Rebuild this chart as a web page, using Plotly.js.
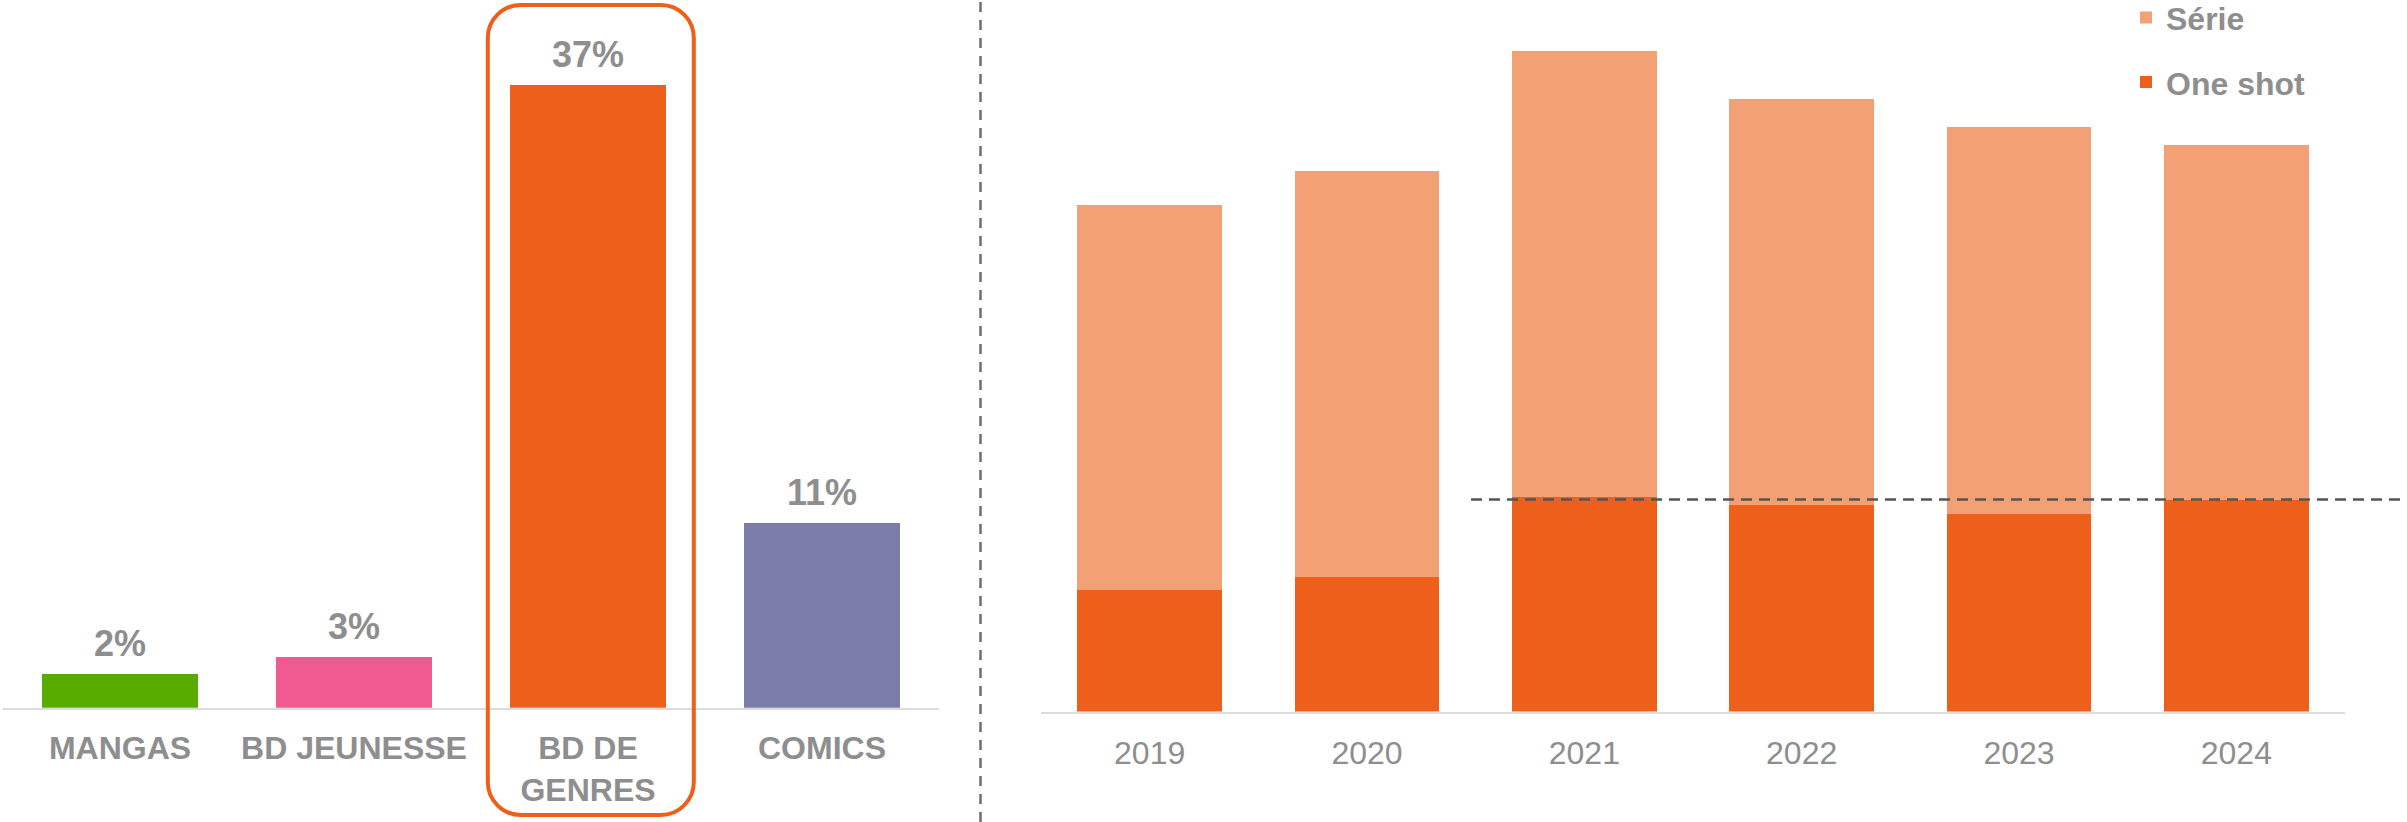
<!DOCTYPE html>
<html>
<head>
<meta charset="utf-8">
<script src="https://cdn.plot.ly/plotly-3.0.1.min.js"></script>
<style>
  html, body { margin: 0; padding: 0; background: #ffffff; }
  #chart { width: 2407px; height: 822px; }
</style>
</head>
<body>
<div id="chart"></div>
<script>
// ---- Left chart: share by genre (%) ----
const genreCategories = ["MANGAS", "BD JEUNESSE", "BD DE<br>GENRES", "COMICS"];
const genreShares = [2, 3, 37, 11];
const genreColors = ["#58AC00", "#EF5A91", "#EE5F1B", "#797DA8"];
const highlightedGenre = "BD DE<br>GENRES";

// ---- Right chart: BD de genres by format ----
const years = ["2019", "2020", "2021", "2022", "2023", "2024"];
const oneShotValues = [122, 135, 215, 207, 198, 212];
const serieValues = [385, 406, 446, 406, 387, 355];
const seriesNames = { oneShot: "One shot", serie: "Série" };
const seriesColors = { oneShot: "#EE5F1B", serie: "#F3A074" };

const FONT = "Liberation Sans, Arial, Helvetica, sans-serif";
const GREY = "#8E8E8E";
const W = 2407, H = 822;

const traces = [
  {
    type: "bar",
    x: genreCategories,
    y: genreShares,
    marker: { color: genreColors, line: { width: 0 } },
    xaxis: "x", yaxis: "y",
    showlegend: false,
    hoverinfo: "skip"
  },
  {
    type: "bar",
    name: seriesNames.oneShot,
    x: years,
    y: oneShotValues,
    marker: { color: seriesColors.oneShot, line: { width: 0 } },
    xaxis: "x2", yaxis: "y2",
    legendgroup: "oneshot",
    legendrank: 2,
    hoverinfo: "skip"
  },
  {
    type: "bar",
    name: seriesNames.serie,
    x: years,
    y: serieValues,
    marker: { color: seriesColors.serie, line: { width: 0 } },
    xaxis: "x2", yaxis: "y2",
    legendgroup: "serie",
    legendrank: 1,
    hoverinfo: "skip"
  }
];

const annotations = genreCategories.map((c, i) => ({
  x: c, y: genreShares[i], xref: "x", yref: "y",
  text: genreShares[i] + "%",
  showarrow: false, yanchor: "bottom", yshift: 8,
  font: { family: FONT, size: 36, color: GREY, weight: "bold" }
}));

const leftBase = 707.7, rightBase = 711.6;
const pxPerPct = 16.83;

const layout = {
  width: W, height: H,
  margin: { l: 0, r: 0, t: 0, b: 0, pad: 0, autoexpand: false },
  paper_bgcolor: "#ffffff",
  plot_bgcolor: "rgba(0,0,0,0)",
  barmode: "stack",
  bargap: 0.335,
  showlegend: true,
  legend: {
    x: 2126 / W, xanchor: "left",
    y: 1.012, yanchor: "top",
    traceorder: "grouped",
    tracegroupgap: 20,
    bgcolor: "rgba(0,0,0,0)",
    borderwidth: 0,
    font: { family: FONT, size: 32, color: GREY, weight: "bold" }
  },
  xaxis: {
    domain: [3 / W, 939 / W],
    type: "category",
    showline: true, linecolor: "#DCDCDC", linewidth: 2,
    ticks: "", showgrid: false, zeroline: false,
    ticklabelstandoff: 11,
    tickfont: { family: FONT, size: 32, color: GREY, weight: "bold" },
    fixedrange: true
  },
  yaxis: {
    domain: [(H - leftBase) / H, 1],
    range: [0, leftBase / pxPerPct],
    visible: false, showgrid: false, zeroline: false,
    fixedrange: true
  },
  xaxis2: {
    domain: [1041 / W, 2345 / W],
    type: "category",
    anchor: "y2",
    showline: true, linecolor: "#DCDCDC", linewidth: 2,
    ticks: "", showgrid: false, zeroline: false,
    ticklabelstandoff: 12,
    tickfont: { family: FONT, size: 32, color: GREY },
    fixedrange: true
  },
  yaxis2: {
    domain: [(H - rightBase) / H, 1],
    range: [0, rightBase],
    anchor: "x2",
    visible: false, showgrid: false, zeroline: false,
    fixedrange: true
  },
  annotations: annotations,
  shapes: [
    // vertical dashed separator
    {
      type: "line", xref: "paper", yref: "paper",
      x0: 980.5 / W, x1: 980.5 / W, y0: 0, y1: 1,
      line: { color: "#6E6E6E", width: 2.5, dash: "10px,8px" }
    },
    // horizontal dashed reference at latest one-shot level
    {
      type: "line", xref: "paper", yref: "y2",
      x0: 1471 / W, x1: 1,
      y0: oneShotValues[oneShotValues.length - 1],
      y1: oneShotValues[oneShotValues.length - 1],
      line: { color: "#555555", width: 2.5, dash: "11px,7px" },
      layer: "above"
    },
    // rounded highlight frame around BD DE GENRES
    (function () {
      const w = 103, h = 405, r = 33, k = 0.5523 * r;
      const p = [
        `M${-w + r},${-h}`, `L${w - r},${-h}`,
        `C${w - r + k},${-h} ${w},${-h + r - k} ${w},${-h + r}`,
        `L${w},${h - r}`,
        `C${w},${h - r + k} ${w - r + k},${h} ${w - r},${h}`,
        `L${-w + r},${h}`,
        `C${-w + r - k},${h} ${-w},${h - r + k} ${-w},${h - r}`,
        `L${-w},${-h + r}`,
        `C${-w},${-h + r - k} ${-w + r - k},${-h} ${-w + r},${-h}`,
        "Z"
      ].join(" ");
      return {
        type: "path", path: p,
        xref: "x", xsizemode: "pixel", xanchor: genreCategories.indexOf(highlightedGenre) + 0.012,
        yref: "paper", ysizemode: "pixel", yanchor: 1 - 410 / H,
        line: { color: "#EE5F1B", width: 4 },
        fillcolor: "rgba(0,0,0,0)",
        layer: "above"
      };
    })()
  ]
};

Plotly.newPlot("chart", traces, layout, { displayModeBar: false, staticPlot: true });
</script>
</body>
</html>
